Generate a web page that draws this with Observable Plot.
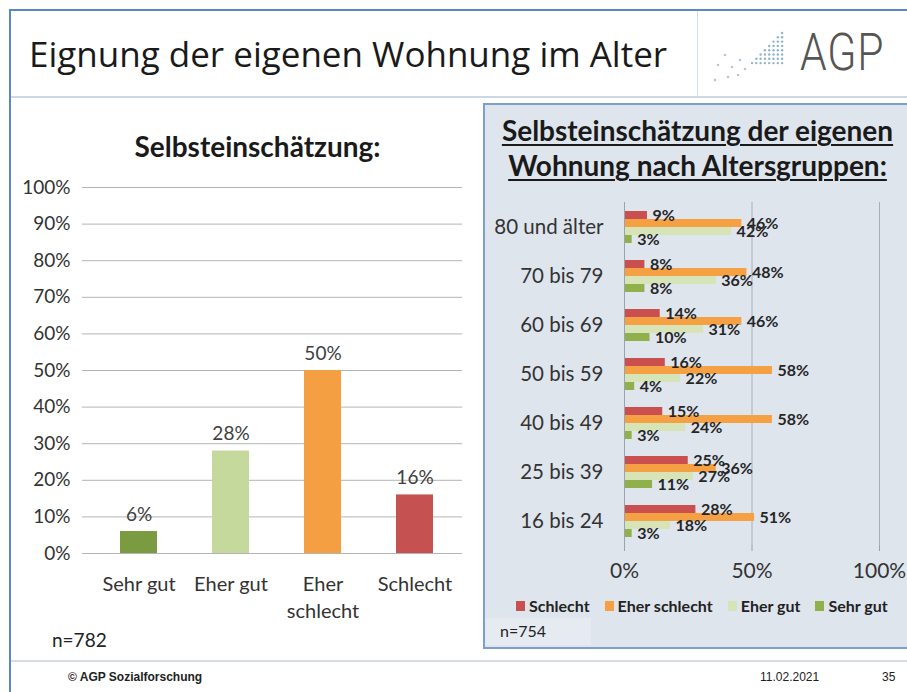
<!DOCTYPE html>
<html>
<head>
<meta charset="utf-8">
<script src="https://cdn.jsdelivr.net/npm/d3@7"></script>
<script src="https://cdn.jsdelivr.net/npm/@observablehq/plot@0.6"></script>
<style>
  html, body { margin: 0; padding: 0; background: #fff; }
  #slide { position: relative; width: 907px; height: 692px; overflow: hidden; background: #fff; font-family: Lato, "Open Sans", sans-serif; }
  .abs { position: absolute; }
  #frame { left: 9px; top: 9px; width: 900px; height: 690px; border-left: 2px solid #5b87c5; border-top: 2px solid #5b87c5; }
  #hline { left: 11px; top: 96px; width: 900px; height: 2px; background: #cdd8e5; }
  #vline { left: 697px; top: 11px; width: 1px; height: 85px; background: #d5dde8; }
  #title { left: 29px; top: 30px; font-family: "Open Sans", sans-serif; font-size: 35px; color: #1a1a1a; white-space: nowrap; }
  #logo { left: 800px; top: 22px; font-family: Roboto, sans-serif; font-weight: 300; font-size: 52px; color: #555; transform: scaleX(0.82); transform-origin: left top; letter-spacing: 1px; }
  #ltitle { left: 0; width: 515px; top: 129px; text-align: center; font-weight: bold; font-size: 28px; color: #1a1a1a; }
  #n1 { left: 52px; top: 628px; font-size: 19px; color: #222; }
  #panel { left: 483px; top: 103px; width: 430px; height: 542px; background: #dfe5ed; border-left: 2px solid #7c9fd0; border-top: 2px solid #7c9fd0; border-bottom: 2px solid #7c9fd0; }
  #nbox { left: 485px; top: 618px; width: 106px; height: 27px; background: #e6ebf1; }
  #n2 { left: 500px; top: 621px; font-size: 16px; color: #222; }
  #rtitle { left: 485px; width: 425px; top: 113px; text-align: center; font-weight: bold; font-size: 28px; line-height: 35px; color: #1a1a1a; white-space: nowrap; }
  #rtitle span { text-decoration: underline; text-decoration-thickness: 2px; text-underline-offset: 3px; }
  #legend { left: 516px; top: 596px; display: flex; gap: 15px; font-weight: bold; font-size: 16px; color: #222; white-space: nowrap; }
  #legend .it { display: flex; align-items: center; gap: 4px; }
  #legend .sw { width: 9px; height: 10px; display: inline-block; }
  #fline { left: 11px; top: 660px; width: 900px; height: 2px; background: #d8dde3; }
  .foot { top: 670px; font-family: "Liberation Sans Narrow", "Arial Narrow", "Liberation Sans", sans-serif; font-stretch: condensed; font-size: 12px; color: #222; }
  #leftchart { left: 0; top: 170px; }
  #rightchart { left: 483px; top: 190px; }
</style>
</head>
<body>
<div id="slide">
  <div id="frame" class="abs"></div>
  <div id="hline" class="abs"></div>
  <div id="vline" class="abs"></div>
  <div id="title" class="abs">Eignung der eigenen Wohnung im Alter</div>
  <svg id="dots" class="abs" style="left:710px;top:25px" width="80" height="60"></svg>
  <div id="logo" class="abs">AGP</div>
  <div id="ltitle" class="abs">Selbsteinschätzung:</div>
  <div id="leftchart" class="abs"></div>
  <div id="n1" class="abs">n=782</div>
  <div id="panel" class="abs"></div>
  <div id="nbox" class="abs"></div>
  <div id="n2" class="abs">n=754</div>
  <div id="rtitle" class="abs"><span>Selbsteinschätzung der eigenen</span><br><span>Wohnung nach Altersgruppen:</span></div>
  <div id="rightchart" class="abs"></div>
  <div id="legend" class="abs"></div>
  <div id="fline" class="abs"></div>
  <div class="abs foot" style="left:68px;font-weight:bold;">© AGP Sozialforschung</div>
  <div class="abs foot" style="left:760px;">11.02.2021</div>
  <div class="abs foot" style="left:882px;">35</div>
</div>
<script>
// ---------- Data ----------
const overallCategories = ["Sehr gut", "Eher gut", "Eher schlecht", "Schlecht"];
const overallValues = [6, 28, 50, 16];

const ageGroups = ["80 und älter", "70 bis 79", "60 bis 69", "50 bis 59", "40 bis 49", "25 bis 39", "16 bis 24"];
const seriesNames = ["Schlecht", "Eher schlecht", "Eher gut", "Sehr gut"];
const schlecht     = [9, 8, 14, 16, 15, 25, 28];
const eherSchlecht = [46, 48, 46, 58, 58, 36, 51];
const eherGut      = [42, 36, 31, 22, 24, 27, 18];
const sehrGut      = [3, 8, 10, 4, 3, 11, 3];

const yTicksLeft = [0, 10, 20, 30, 40, 50, 60, 70, 80, 90, 100];
const xTicksRight = [0, 50, 100];

// palette
const palette = {"Sehr gut": "#7a9b3f", "Eher gut": "#c5d99d", "Eher schlecht": "#f59f43", "Schlecht": "#c55250"};
const paletteRight = {"Sehr gut": "#8fb04a", "Eher gut": "#d6e4b8", "Eher schlecht": "#f5a043", "Schlecht": "#c9504f"};

// ---------- Left chart ----------
const leftData = overallCategories.map((c, i) => ({cat: c, value: overallValues[i]}));
const left = Plot.plot({
  width: 480, height: 460,
  marginLeft: 91, marginRight: 18, marginTop: 17, marginBottom: 77,
  style: {fontFamily: "Lato, sans-serif", fontSize: "19px", color: "#333", background: "transparent"},
  x: {domain: overallCategories, paddingInner: 0.6, paddingOuter: 0.3, axis: null},
  y: {domain: [0, 100], axis: null},
  color: {domain: overallCategories, range: overallCategories.map(c => palette[c])},
  marks: [
    Plot.ruleY(yTicksLeft, {stroke: "#b4b4b4", strokeWidth: 1}),
    Plot.ruleX([0], {frameAnchor: "left", stroke: "#b4b4b4"}),
    Plot.axisY(yTicksLeft, {tickFormat: d => d + "%", tickSize: 9, tickPadding: 12, stroke: "#b4b4b4", fill: "#333", fontSize: 19, label: null}),
    Plot.barY(leftData, {x: "cat", y: "value", fill: "cat"}),
    Plot.text(leftData, {x: "cat", y: "value", text: d => d.value + "%", dy: -17, fill: "#404040", fontSize: 19}),
    Plot.axisX({tickSize: 0, tickPadding: 18, fontSize: 20, fill: "#333", lineHeight: 1.35, label: null,
      tickFormat: d => d === "Eher schlecht" ? "Eher\nschlecht" : d})
  ]
});
document.getElementById("leftchart").appendChild(left);

// ---------- Right chart ----------
const cols = [schlecht, eherSchlecht, eherGut, sehrGut];
const rightData = [];
ageGroups.forEach((a, i) => seriesNames.forEach((s, j) => rightData.push({age: a, series: s, value: cols[j][i]})));

const right = Plot.plot({
  width: 424, height: 400,
  marginLeft: 141, marginRight: 28, marginTop: 10, marginBottom: 43,
  style: {fontFamily: "Lato, sans-serif", fontSize: "19px", color: "#333", background: "transparent", overflow: "visible"},
  x: {domain: [0, 100], axis: null},
  y: {domain: seriesNames, paddingInner: 0, paddingOuter: 0.75, axis: null},
  fy: {domain: ageGroups, padding: 0, label: null},
  color: {domain: seriesNames, range: seriesNames.map(s => paletteRight[s])},
  marks: [
    Plot.ruleX([50, 100], {stroke: "#a7afba", strokeWidth: 1}),
    Plot.barX(rightData, {fy: "age", y: "series", x: "value", fill: "series"}),
    Plot.ruleX([0], {stroke: "#9aa2ad"}),
    Plot.text(rightData, {fy: "age", y: "series", x: "value", text: d => d.value + "%", dx: 5, textAnchor: "start", fontWeight: "bold", fontSize: 16, fill: "#262626"}),
    Plot.axisX(xTicksRight, {tickFormat: d => d + "%", tickSize: 6, tickPadding: 12, stroke: "#9aa2ad", fill: "#333", fontSize: 21, label: null}),
    Plot.axisFy({anchor: "left", tickSize: 0, tickPadding: 21, fontSize: 20.5, fill: "#333", label: null})
  ]
});
document.getElementById("rightchart").appendChild(right);

// ---------- Legend ----------
const legend = d3.select("#legend");
seriesNames.forEach(s => {
  const it = legend.append("div").attr("class", "it");
  it.append("span").attr("class", "sw").style("background", paletteRight[s]);
  it.append("span").text(s);
});

// ---------- Logo dots (decoration) ----------
const dots = d3.select("#dots");
for (let r = 0; r < 8; r++) {
  for (let c = 0; c < 8; c++) {
    if (c >= 7 - r) {
      dots.append("circle").attr("cx", 42 + c * 4.3).attr("cy", 8 + r * 4.3).attr("r", 1.2).attr("fill", "#8fb3cf");
    }
  }
}
[[8, 40], [15, 30], [22, 42], [30, 35], [18, 52], [5, 55], [28, 50], [35, 44]].forEach(([x, y]) =>
  dots.append("circle").attr("cx", x).attr("cy", y).attr("r", 1.3).attr("fill", "#b8c6d2"));
</script>
</body>
</html>
